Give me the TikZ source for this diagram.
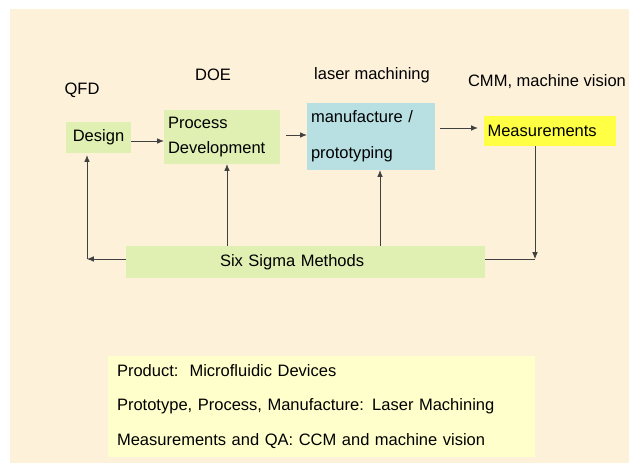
\documentclass[tikz,border=0pt]{standalone}
\usepackage{fontspec}
\setmainfont{Liberation Sans}
\usetikzlibrary{arrows.meta}

\definecolor{paper}{HTML}{FDF1DA}
\definecolor{boxgreen}{HTML}{E0EFB2}
\definecolor{boxblue}{HTML}{B8E0E3}
\definecolor{boxyellow}{HTML}{FFFF44}
\definecolor{notepad}{HTML}{FFFFCC}
\definecolor{linegray}{HTML}{404040}

\tikzset{
  stage/.style={fill=boxgreen, inner sep=0pt, font=\fontsize{23.5}{28}\selectfont},
  toolname/.style={font=\fontsize{23.5}{28}\selectfont},
  flow/.style={draw=linegray, line width=1.1pt, -{Latex[length=0.34cm,width=0.28cm]}},
}

\begin{document}
\begin{tikzpicture}[x=0.05cm,y=-0.05cm]
  \useasboundingbox (0,0) rectangle (629,468);
  \fill[white] (0,0) rectangle (629,468);
  \fill[paper] (10,9) rectangle (629,463);

  % tool labels
  \node[toolname] (qfd) at (82,90) {QFD};
  \node[toolname] (doe) at (213,75) {DOE};
  \node[toolname] (laser) at (372,75) {laser machining};
  \node[toolname] (cmm) at (547,82) {CMM, machine vision};

  % process chain
  \node[stage, minimum width=3.25cm, minimum height=1.55cm] (design) at (98.5,137.5) {Design};
  \node[stage, minimum width=5.8cm, minimum height=2.7cm, text width=5.4cm, align=left,
        font=\fontsize{23.5}{35.5}\selectfont] (proc) at (222,137) {Process\\Development};
  \node[stage, fill=boxblue, minimum width=6.4cm, minimum height=3.35cm, text width=6cm, align=left,
        font=\fontsize{23.5}{51}\selectfont] (manuf) at (371,136.5) {manufacture /\\prototyping};
  \node[stage, fill=boxyellow, minimum width=6.6cm, minimum height=1.5cm, text width=6.25cm,
        align=left] (meas) at (550,131) {Measurements};
  \node[stage, minimum width=17.95cm, minimum height=1.6cm, text width=17.95cm,
        align=left] (six) at (305.5,262) {\hspace*{4.7cm}Six Sigma Methods};

  \coordinate (cl) at (87,259);
  \coordinate (cr) at (535,259);

  \draw[flow] (design.east |- 0,141) -- (proc.west |- 0,141);
  \draw[flow] ([xshift=0.3cm]proc.east |- 0,135) -- (manuf.west |- 0,135);
  \draw[flow] ([xshift=0.25cm]manuf.east |- 0,128) -- ([xshift=-0.3cm]meas.west |- 0,128);
  \draw[flow] (six.north -| 227,0) -- (proc.south -| 227,0);
  \draw[flow] (six.north -| 380,0) -- (manuf.south -| 380,0);
  \draw[flow] (meas.south -| cr) -- (cr);
  \draw[flow, -] (six.east |- cr) -- (cr);
  \draw[flow] (six.west |- cl) -- (cl);
  \draw[flow] (cl) -- ([yshift=-0.1cm]design.south -| cl);

  % summary note
  \node[fill=notepad, minimum width=21.35cm, minimum height=5.05cm, text width=20.45cm,
        align=left, inner sep=0pt, font=\fontsize{23.5}{49.6}\selectfont] (note) at (321.5,406.5)
    {Product:\ \ Microfluidic Devices\\
     Prototype, Process, Manufacture: Laser Machining\\
     Measurements and QA: CCM and machine vision};
\end{tikzpicture}
\end{document}
